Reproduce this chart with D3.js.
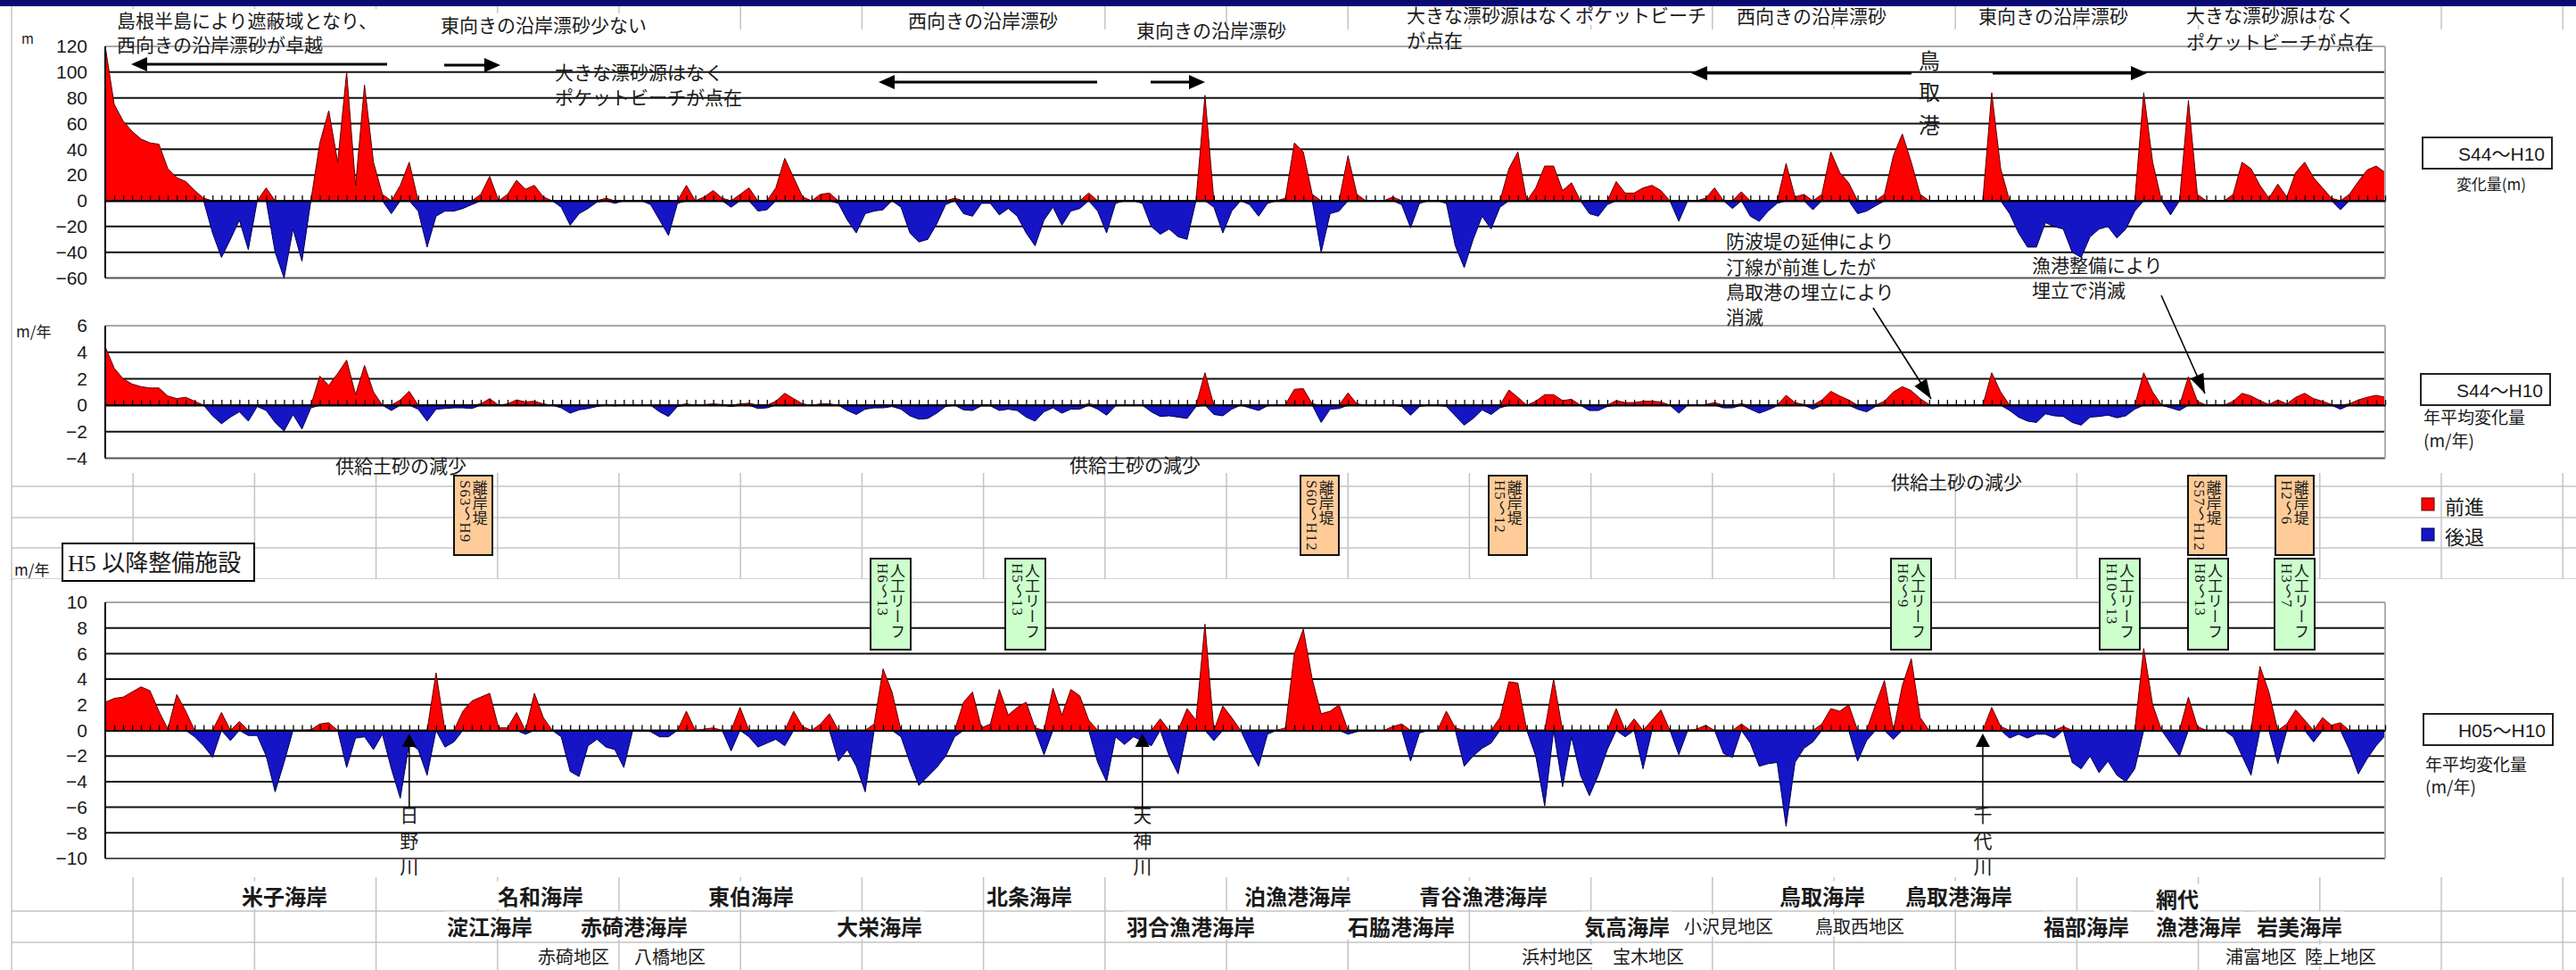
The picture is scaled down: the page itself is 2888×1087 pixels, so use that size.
<!DOCTYPE html>
<html>
<head>
<meta charset="utf-8">
<script src="https://cdn.jsdelivr.net/npm/d3@7"></script>
<style>
  html, body { margin: 0; padding: 0; background: #fff; }
  svg { display: block; }
  text { font-family: "Noto Sans CJK JP", "Noto Sans", sans-serif; fill: #1a1a1a; }
</style>
</head>
<body>
<div id="chart"></div>
<script>
// page size
const W = 2888, H = 1087;
const X0 = 118, X1 = 2674;

// shoreline change per survey point, west (left) -> east (right)
// S44~H10 change (m)
const changeS44H10 = [
  120,75,62,54,48,45,44,25,18,15,8,2,-25,-44,-30,-15,
  -38,0,10,-40,-60,-22,-47,0,45,70,30,100,12,90,30,5,
  -10,12,30,-8,-36,-12,-8,-8,-6,-3,5,19,0,5,16,9,
  12,3,0,-5,-19,-10,-6,-1,2,-2,0,0,0,-3,-15,-27,
  -2,12,0,3,8,2,-5,5,10,-8,-7,10,33,18,3,0,
  5,6,-2,-15,-25,-10,-8,-7,0,-5,-25,-32,-30,-18,-3,2,
  -10,-12,-2,-2,-11,-6,-12,-25,-35,-15,-5,-19,-8,-6,6,-8,
  -25,-2,0,0,-2,-20,-26,-22,-28,-30,0,82,-5,-25,-8,0,
  -3,-12,-2,0,2,45,38,5,-40,-10,-8,35,5,0,0,0,
  3,-3,-21,-2,0,0,-2,-35,-52,-30,-12,-22,-5,25,38,0,
  10,27,27,8,14,0,-10,-12,-3,15,6,6,10,12,8,0,
  -16,0,0,2,10,0,-6,7,-12,-16,-8,-2,29,3,5,-7,
  5,38,22,14,-10,-8,-4,5,35,52,30,5,0,0,0,0,
  0,0,0,84,25,-10,-25,-36,-36,-17,-20,-22,-40,-44,-28,-22,
  -20,-29,-22,-8,84,30,0,-11,0,78,5,0,0,0,5,30,
  25,12,2,13,3,22,30,18,10,2,-7,5,15,24,27,22
];

// S44~H10 mean yearly change (m/年)
const rateS44H10 = [
  4.4,2.8,2.0,1.6,1.4,1.3,1.3,0.7,0.5,0.6,0.3,0,-0.8,-1.4,-0.9,-0.5,
  -1.2,-0.1,-0.4,-1.3,-1.95,-0.7,-1.8,-0.2,2.2,1.5,2.4,3.4,0.8,3.0,1.0,0,
  -0.4,0.4,1.05,-0.3,-1.2,-0.3,-0.25,-0.2,-0.2,-0.25,0.1,0.5,0,0.1,0.4,0.25,
  0.3,0.1,0,-0.2,-0.6,-0.35,-0.25,-0.1,0.05,-0.05,0,0,0,0,-0.5,-0.85,
  -0.1,0.1,0,0.05,0.1,0.05,-0.1,0.1,0.15,-0.25,-0.2,0.3,0.9,0.5,0.1,0,
  0.1,0.1,0,-0.4,-0.7,-0.3,-0.2,-0.2,-0.1,-0.3,-0.8,-1.05,-1.0,-0.6,-0.1,0,
  -0.35,-0.4,-0.05,-0.05,-0.4,-0.3,-0.4,-0.9,-1.2,-0.5,-0.2,-0.6,-0.3,-0.3,0.1,-0.3,
  -0.75,-0.05,0,0,0,-0.5,-0.85,-0.8,-0.9,-1.0,-0.1,2.45,-0.7,-0.8,-0.3,0,
  -0.2,-0.4,-0.05,0,0.05,1.2,1.25,0.1,-1.3,-0.3,-0.25,0.93,0.1,0,0,0,
  0.05,-0.1,-0.75,-0.1,0,0,-0.1,-0.8,-1.5,-1.0,-0.35,-0.7,-0.2,1.15,0.6,0,
  0.3,0.8,0.8,0.35,0.45,0,-0.4,-0.4,-0.1,0.35,0.2,0.2,0.3,0.3,0.25,0,
  -0.6,0,0,0.05,0.2,-0.2,-0.2,0.1,-0.3,-0.6,-0.35,-0.05,0.75,0.2,0.05,-0.3,
  0.4,1.05,0.7,0.4,-0.3,-0.5,-0.1,0.3,1.0,1.4,1.1,0.5,0.05,0,0,0,
  0,0,0,2.45,1.0,-0.4,-0.9,-1.2,-1.3,-0.65,-0.8,-0.85,-1.3,-1.5,-0.9,-0.85,
  -0.75,-0.95,-0.8,-0.3,2.45,1.0,0,-0.2,-0.4,2.15,0.3,0,0,0,0.3,0.9,
  0.7,0.35,0.05,0.4,0.1,0.6,0.9,0.5,0.3,0.05,-0.3,0.1,0.4,0.6,0.75,0.6
];

// H05~H10 mean yearly change (m/年)
const rateH05H10 = [
  2.2,2.5,2.6,3.0,3.4,3.1,1.5,0.1,2.8,1.5,-0.5,-1.2,-2.1,1.4,-0.8,0.7,
  -0.4,-0.4,-2.0,-4.8,-2.5,0,0,0.05,0.5,0.6,0,-2.9,-0.6,-0.5,-1.5,-0.3,
  -3.0,-5.3,-1.0,-1.5,-3.5,4.5,-1.3,-0.9,1.5,2.3,2.6,2.9,0.2,0.2,1.4,-0.3,
  2.9,1.0,0,-0.5,-3.2,-3.6,-1.2,-0.7,-1.3,-1.5,-2.9,0,0,-0.1,-0.5,-0.5,
  0,1.5,0,0.1,0.2,0,-1.6,1.8,-0.5,-1.3,-1.0,-0.7,-1.2,1.5,0.3,0,
  0.5,1.3,-2.4,-1.5,-2.8,-4.8,0.5,4.8,3.0,-0.5,-2.5,-4.3,-3.6,-2.9,-2.0,-0.5,
  2.2,3.0,0.2,0.5,3.2,1.2,1.8,2.2,0.2,-1.9,3.3,1.2,3.2,2.7,0.8,-2.5,
  -4.0,-0.5,-1.1,-0.5,-0.8,-1.2,0.9,-2.0,-3.4,1.7,0.8,8.3,-0.8,1.9,1.0,0,
  -1.5,-2.8,-0.3,0,0.2,6.0,7.9,4.0,1.3,1.5,2.0,-0.3,-0.1,0,0,0,
  0.3,0.5,-2.4,-0.2,0,0,1.5,0.2,-2.8,-2.0,-1.4,-1.0,1.0,3.8,3.7,0,
  -2.0,-5.9,4.0,-4.4,-0.5,-3.5,-5.1,-3.5,-1.5,1.7,-0.5,0.9,-3.0,0.8,1.6,0,
  -1.9,0,0.1,0.4,0,-1.8,-2.1,0.5,-1.0,-2.8,-2.6,-2.5,-7.5,-2.5,-1.4,-0.9,
  0.5,1.7,1.5,2.0,-2.4,-0.8,2.0,3.9,-0.7,3.5,5.6,1.0,0,0,0,0,
  0,0,0,1.8,0.3,-0.6,-0.3,-0.6,-0.3,-0.3,-0.6,0.3,-2.5,-3.0,-2.0,-3.3,
  -2.4,-3.5,-4.0,-3.0,6.4,2.0,0,-1.0,-2.0,2.6,0.3,0,0,0,-0.5,-2.0,
  -3.5,5.0,3.0,-2.6,0.5,1.6,0.8,-0.9,1.0,0.4,0.6,-1.5,-3.4,-2.2,-1.2,-0.4
];

// axis tick values
const ticksTop = [-60, -40, -20, 0, 20, 40, 60, 80, 100, 120];
const ticksMid = [-4, -2, 0, 2, 4, 6];
const ticksBot = [-10, -8, -6, -4, -2, 0, 2, 4, 6, 8, 10];

// coast names under the lower chart
const coastRow1 = ["米子海岸", "名和海岸", "東伯海岸", "北条海岸", "泊漁港海岸", "青谷漁港海岸", "鳥取海岸", "鳥取港海岸", "網代"];
const coastRow1X = [271, 558, 794, 1106, 1395, 1591, 1995, 2136, 2417];
const coastRow2 = ["淀江海岸", "赤碕港海岸", "大栄海岸", "羽合漁港海岸", "石脇港海岸", "気高海岸", "福部海岸", "漁港海岸", "岩美海岸"];
const coastRow2X = [501, 651, 938, 1263, 1511, 1776, 2291, 2417, 2530];
const districtMid = ["小沢見地区", "鳥取西地区"];
const districtMidX = [1888, 2035];
const districtLow = ["赤碕地区", "八橋地区", "浜村地区", "宝木地区", "浦富地区", "陸上地区"];
const districtLowX = [603, 711, 1706, 1808, 2495, 2584];

// rivers (survey point index of the mouth)
const rivers = [["日", "野", "川"], ["天", "神", "川"], ["千", "代", "川"]];
const riverIdx = [34, 116, 210];

// facilities built after H5
const breakwaters = ["S63～H9", "S60～H12", "H5～12", "S57～H12", "H2～6"];
const breakwaterX = [509, 1458, 1669, 2453, 2551];
const reefs = ["H6～13", "H5～13", "H6～9", "H10～13", "H8～13", "H3～7"];
const reefX = [976, 1127, 2120, 2354, 2453, 2550];

const svg = d3.select("#chart").append("svg")
  .attr("width", W).attr("height", H)
  .attr("viewBox", `0 0 ${W} ${H}`);

svg.append("rect").attr("width", W).attr("height", H).attr("fill", "#fff");

// worksheet cell lines behind the charts
const sheet = svg.append("g").attr("stroke", "#c4c4c4").attr("stroke-width", 1.5);
sheet.selectAll("line.col").data(d3.range(22)).join("line")
  .attr("x1", k => 13 + 136.2 * k).attr("x2", k => 13 + 136.2 * k)
  .attr("y1", 0).attr("y2", H);
sheet.selectAll("line.row").data([545, 580, 614, 649, 1021, 1056]).join("line")
  .attr("x1", 13).attr("x2", W).attr("y1", d => d).attr("y2", d => d);

// chart objects (white)
svg.append("rect").attr("x", 15).attr("y", 33).attr("width", W - 15).attr("height", 497).attr("fill", "#fff");
svg.append("rect").attr("x", 15).attr("y", 649).attr("width", W - 15).attr("height", 334).attr("fill", "#fff");

const x = d3.scalePoint().domain(d3.range(changeS44H10.length)).range([X0, X1]);

const yTop = d3.scaleLinear().domain([-60, 120]).range([311.5, 52]);
const yMid = d3.scaleLinear().domain([-4, 6]).range([513.5, 365]);
const yBot = d3.scaleLinear().domain([-10, 10]).range([962, 675]);

const drawPanel = (values, y, ticks) => {
  const g = svg.append("g");
  const lo = d3.min(ticks), hi = d3.max(ticks);

  // horizontal gridlines
  g.selectAll("line.grid").data(ticks).join("line")
    .attr("x1", X0).attr("x2", X1)
    .attr("y1", d => y(d)).attr("y2", d => y(d))
    .attr("stroke", d => (d === hi ? "#a8a8a8" : d === lo ? "#555" : "#111"))
    .attr("stroke-width", 2);

  // accretion (red) and erosion (blue)
  const area = d3.area().x((d, i) => x(i)).y0(y(0));
  g.append("path").datum(values)
    .attr("d", area.y1(v => y(Math.max(v, 0))))
    .attr("fill", "#ff0000").attr("stroke", "#5a0000").attr("stroke-width", 1);
  g.append("path").datum(values)
    .attr("d", area.y1(v => y(Math.min(v, 0))))
    .attr("fill", "#1515c6").attr("stroke", "#000050").attr("stroke-width", 1);

  // frame
  g.append("line").attr("x1", X1).attr("x2", X1).attr("y1", y(hi)).attr("y2", y(lo))
    .attr("stroke", "#b0b0b0").attr("stroke-width", 2);
  g.append("line").attr("x1", X0).attr("x2", X0).attr("y1", y(hi)).attr("y2", y(lo))
    .attr("stroke", "#000").attr("stroke-width", 2);

  // value axis labels
  const ay = g.append("g").attr("transform", `translate(${X0},0)`)
    .call(d3.axisLeft(y).tickValues(ticks).tickSize(0).tickPadding(20));
  ay.select(".domain").remove();
  ay.selectAll("text")
    .style("font-family", "'Liberation Sans', Arial, sans-serif")
    .style("font-size", "21px").attr("fill", "#222");

  // category axis on the zero line
  const ax = g.append("g").attr("transform", `translate(0,${y(0)})`)
    .call(d3.axisTop(x).tickFormat("").tickSize(6).tickSizeOuter(0));
  ax.select(".domain").attr("stroke", "#000").attr("stroke-width", 2);
  ax.selectAll(".tick line").attr("stroke", "#000").attr("stroke-width", 1.3);
  return g;
};

drawPanel(changeS44H10, yTop, ticksTop);
drawPanel(rateS44H10, yMid, ticksMid);
drawPanel(rateH05H10, yBot, ticksBot);

// unit labels
const unit = (t, x0, y0, size) => svg.append("text").attr("x", x0).attr("y", y0)
  .attr("dominant-baseline", "central").style("font-size", size + "px").text(t);
unit("m", 24, 42, 15);
unit("m/年", 18, 370, 17);
unit("m/年", 16, 637, 17);

// annotation texts
const notes = [
  ["島根半島により遮蔽域となり、", 131, 22],
  ["西向きの沿岸漂砂が卓越", 131, 49],
  ["東向きの沿岸漂砂少ない", 494, 27],
  ["大きな漂砂源はなく", 622, 80],
  ["ポケットビーチが点在", 622, 108],
  ["西向きの沿岸漂砂", 1018, 22],
  ["東向きの沿岸漂砂", 1274, 33],
  ["大きな漂砂源はなくポケットビーチ", 1577, 16],
  ["が点在", 1577, 44],
  ["西向きの沿岸漂砂", 1947, 17],
  ["東向きの沿岸漂砂", 2218, 17],
  ["大きな漂砂源はなく", 2451, 16],
  ["ポケットビーチが点在", 2451, 46],
  ["防波堤の延伸により", 1935, 269],
  ["汀線が前進したが", 1935, 298],
  ["鳥取港の埋立により", 1935, 326],
  ["消滅", 1935, 354],
  ["漁港整備により", 2278, 296],
  ["埋立で消滅", 2278, 324],
  ["供給土砂の減少", 376, 521],
  ["供給土砂の減少", 1199, 520],
  ["供給土砂の減少", 2120, 539]
];
const noteG = svg.append("g");
notes.forEach(([t, nx, ny]) => {
  const tx = noteG.append("text").attr("x", nx).attr("y", ny)
    .attr("dominant-baseline", "central").style("font-size", "21px").attr("fill", "#222").text(t);
  if (ny < 30) {
    const b = tx.node().getBBox();
    noteG.insert("rect", () => tx.node())
      .attr("x", b.x - 2).attr("y", b.y + 3).attr("width", b.width + 4).attr("height", b.height - 6)
      .attr("fill", "#fff");
  }
});

// 鳥取港 (vertical)
["鳥", "取", "港"].forEach((c, k) => {
  svg.append("text").attr("x", 2163).attr("y", [66, 101, 138][k])
    .attr("text-anchor", "middle").attr("dominant-baseline", "central")
    .style("font-size", "24px").text(c);
});

// drift arrows in the upper chart
const arrowHead = (g, tipX, tipY, dir, len, half) => {
  const bx = tipX - dir * len;
  g.append("path").attr("d", `M${tipX},${tipY}L${bx},${tipY - half}L${bx},${tipY + half}Z`).attr("fill", "#000");
};
const drift = [
  [434, 147, 72], [498, 561, 73], [1230, 985, 92], [1290, 1351, 92], [2143, 1896, 82], [2234, 2407, 82]
];
const driftG = svg.append("g");
drift.forEach(([from, to, ay]) => {
  const dir = to > from ? 1 : -1;
  driftG.append("line").attr("x1", from).attr("x2", to - dir * 10).attr("y1", ay).attr("y2", ay)
    .attr("stroke", "#000").attr("stroke-width", 3);
  arrowHead(driftG, to, ay, dir, 18, 8);
});

// pointer lines into the middle chart
const pointers = [[2100, 345, 2165, 447], [2423, 331, 2472, 441]];
pointers.forEach(([ax1, ay1, ax2, ay2]) => {
  svg.append("line").attr("x1", ax1).attr("y1", ay1).attr("x2", ax2).attr("y2", ay2)
    .attr("stroke", "#000").attr("stroke-width", 1.6);
  const ang = Math.atan2(ay2 - ay1, ax2 - ax1) * 180 / Math.PI;
  svg.append("path").attr("d", "M0,0L-22,-8L-22,8Z").attr("fill", "#000")
    .attr("transform", `translate(${ax2},${ay2}) rotate(${ang})`);
});

// legend boxes
const periodBox = (label, bx, by) => {
  svg.append("rect").attr("x", bx).attr("y", by).attr("width", 145).attr("height", 35)
    .attr("fill", "#fff").attr("stroke", "#222").attr("stroke-width", 2);
  svg.append("text").attr("x", bx + 137).attr("y", by + 18).attr("text-anchor", "end")
    .attr("dominant-baseline", "central")
    .style("font-family", "'Liberation Sans', 'Noto Sans CJK JP', sans-serif")
    .style("font-size", "21px").text(label);
};
periodBox("S44～H10", 2716, 154);
svg.append("text").attr("x", 2793).attr("y", 205).attr("text-anchor", "middle")
  .attr("dominant-baseline", "central").style("font-size", "17px").text("変化量(m)");
periodBox("S44～H10", 2714, 419);
unit("年平均変化量", 2717, 466, 19);
unit("(m/年)", 2717, 492, 19);
periodBox("H05～H10", 2717, 800);
unit("年平均変化量", 2719, 855, 19);
unit("(m/年)", 2719, 880, 19);

svg.append("rect").attr("x", 2715).attr("y", 558).attr("width", 14).attr("height", 14)
  .attr("fill", "#ff0000").attr("stroke", "#500").attr("stroke-width", 1);
unit("前進", 2741, 566, 22);
svg.append("rect").attr("x", 2715).attr("y", 592).attr("width", 14).attr("height", 14)
  .attr("fill", "#1515c6").attr("stroke", "#000050").attr("stroke-width", 1);
unit("後退", 2741, 600, 22);

// H5 以降整備施設
svg.append("rect").attr("x", 70).attr("y", 609).attr("width", 215).attr("height", 42)
  .attr("fill", "#fff").attr("stroke", "#000").attr("stroke-width", 2);
svg.append("text").attr("x", 76).attr("y", 631).attr("dominant-baseline", "central")
  .style("font-family", "'Liberation Serif', 'Noto Sans CJK JP', serif")
  .style("font-size", "26px").text("H5 以降整備施設");

// facility tags with vertical text
const tag = (name, years, bx, by, bw, bh, fill) => {
  const g = svg.append("g");
  g.append("rect").attr("x", bx).attr("y", by).attr("width", bw).attr("height", bh)
    .attr("fill", fill).attr("stroke", "#111").attr("stroke-width", 2);
  g.append("text").attr("x", bx + bw * 0.68).attr("y", by + 5)
    .style("writing-mode", "vertical-rl").style("text-orientation", "upright")
    .style("font-size", "17px").text(name);
  g.append("text").attr("x", bx + bw * 0.3).attr("y", by + 5)
    .style("writing-mode", "vertical-rl")
    .style("font-family", "'Liberation Serif', 'Noto Sans CJK JP', serif")
    .style("font-size", "17px").style("letter-spacing", "1px").text(years);
};
breakwaters.forEach((yrs, k) => tag("離岸堤", yrs, breakwaterX[k], 533, 43, 89, "#ffcc99"));
reefs.forEach((yrs, k) => tag("人工リーフ", yrs, reefX[k], 626, 45, 102, "#ccffcc"));

// river mouths
rivers.forEach((chars, k) => {
  const rx = x(riverIdx[k]);
  svg.append("path").attr("d", `M${rx},822L${rx - 8},837L${rx + 8},837Z`).attr("fill", "#000");
  svg.append("line").attr("x1", rx).attr("x2", rx).attr("y1", 836).attr("y2", 905)
    .attr("stroke", "#000").attr("stroke-width", 1.5);
  chars.forEach((c, j) => {
    svg.append("text").attr("x", rx).attr("y", [912, 941, 970][j])
      .attr("text-anchor", "middle").attr("dominant-baseline", "central")
      .style("font-size", "21px").text(c);
  });
});

// coast and district names
const nameG = svg.append("g");
const placeName = (t, nx, ny, size, bold) => {
  const tx = nameG.append("text").attr("x", nx).attr("y", ny).attr("dominant-baseline", "central")
    .style("font-size", size + "px").style("font-weight", bold ? 700 : 400).text(t);
  const b = tx.node().getBBox();
  nameG.insert("rect", () => tx.node())
    .attr("x", b.x - 2).attr("y", b.y + 2).attr("width", b.width + 4).attr("height", b.height - 4)
    .attr("fill", "#fff");
};
coastRow1.forEach((t, k) => placeName(t, coastRow1X[k], t === "網代" ? 1006 : 1003, 24, true));
coastRow2.forEach((t, k) => placeName(t, coastRow2X[k], 1037, 24, true));
districtMid.forEach((t, k) => placeName(t, districtMidX[k], 1037, 20, false));
districtLow.forEach((t, k) => placeName(t, districtLowX[k], 1071, 20, false));

// title bar strip at the top edge
svg.append("rect").attr("x", 0).attr("y", 0).attr("width", W).attr("height", 7).attr("fill", "#0a0a72");
</script>
</body>
</html>
